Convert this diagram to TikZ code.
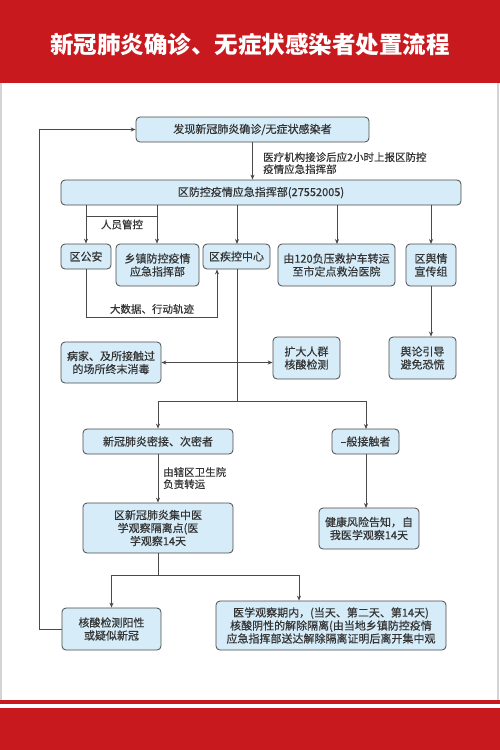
\documentclass[tikz,border=0pt]{standalone}
\usepackage{fontspec}
\newfontfamily\cjk{Noto Sans CJK SC}
\newfontfamily\cjkm[FakeBold=0.35]{Noto Sans CJK SC}
\usetikzlibrary{arrows.meta,calc}
\definecolor{hdred}{HTML}{C8191F}
\definecolor{boxfill}{HTML}{D6ECF8}
\definecolor{boxline}{HTML}{4A4A4A}
\definecolor{txt}{HTML}{333333}
\definecolor{edge}{HTML}{D4D4D4}
\begin{document}
\begin{tikzpicture}[x=1pt,y=-1pt,
  box/.style={draw=boxline, fill=boxfill, rounded corners=4pt, line width=0.8pt,
    align=center, inner sep=0pt, text=txt, font=\cjkm\fontsize{11}{13}\selectfont},
  lbl/.style={text=txt, font=\cjkm\fontsize{10.5}{12}\selectfont, inner sep=0pt},
  conn/.style={draw=boxline, line width=0.8pt},
  arr/.style={conn, -{Stealth[length=5pt,width=4pt]}},
  arrboth/.style={conn, {Stealth[length=5pt,width=4pt]}-{Stealth[length=5pt,width=4pt]}}]
\useasboundingbox (0,0) rectangle (500,750);
\fill[white] (0,0) rectangle (500,750);
% header and footer
\fill[hdred] (0,0) rectangle (500,83);
\node[text=white, font=\cjk\bfseries\fontsize{23.5}{26}\selectfont, inner sep=0pt] (title) at (250,45) {新冠肺炎确诊、无症状感染者处置流程};
\fill[hdred] (0,700) rectangle (500,704);
\fill[hdred] (0,708) rectangle (500,750);
\draw[edge, line width=1.5pt] (1,83) -- (1,700);
\draw[edge, line width=1.5pt] (498,83) -- (498,700);
% boxes
\node[box, minimum width=233, minimum height=25] (b1) at (252.5,129.5) {发现新冠肺炎确诊/无症状感染者};
\node[box, minimum width=400, minimum height=25] (b2) at (261,192.5) {区防控疫情应急指挥部(27552005)};
\node[box, minimum width=50, minimum height=25] (ga) at (86,256.5) {区公安};
\node[box, minimum width=83, minimum height=42] (xz) at (157.5,265) {乡镇防控疫情\\应急指挥部};
\node[box, minimum width=67, minimum height=25] (jk) at (236.5,256.5) {区疾控中心};
\node[box, minimum width=117, minimum height=42] (zy) at (336.5,265) {由120负压救护车转运\\至市定点救治医院};
\node[box, minimum width=50, minimum height=42] (yq) at (431,265) {区舆情\\宣传组};
\node[box, minimum width=100, minimum height=41] (bj) at (111,362.5) {病家、及所接触过\\的场所终末消毒};
\node[box, minimum width=67, minimum height=42] (kd) at (306.5,358) {扩大人群\\核酸检测};
\node[box, minimum width=67, minimum height=42] (yl) at (422.5,358) {舆论引导\\避免恐慌};
\node[box, minimum width=150, minimum height=25] (mj) at (158,441.5) {新冠肺炎密接、次密者};
\node[box, minimum width=67, minimum height=25] (yb) at (365.5,441.5) {–般接触者};
\node[box, minimum width=150, minimum height=50] (gl) at (158,528) {区新冠肺炎集中医\\学观察隔离点(医\\学观察14天};
\node[box, minimum width=100, minimum height=41] (jz) at (369,528.5) {健康风险告知，自\\我医学观察14天};
\node[box, minimum width=99, minimum height=42] (yx) at (111.5,629) {核酸检测阳性\\或疑似新冠};
\node[box, minimum width=230, minimum height=49] (jc) at (331,625.5) {医学观察期内，(当天、第二天、第14天)\\核酸阴性的解除隔离(由当地乡镇防控疫情\\应急指挥部送达解除隔离证明后离开集中观};
% labels
\node[lbl, anchor=north west, align=left] (l1) at (263,152) {医疗机构接诊后应2小时上报区防控\\疫情应急指挥部};
\node[lbl] (l2) at (122,224.5) {人员管控};
\node[lbl] (l3) at (152,309) {大数据、行动轨迹};
\node[lbl, anchor=north west, align=left] (l4) at (163,467) {由辖区卫生院\\负责转运};
% junction coordinates
\coordinate (h1) at (86,216);
\coordinate (h2) at (157,216);
\coordinate (d1) at (217,317);
\coordinate (s1) at (237,401);
\coordinate (s2) at (158,575);
\coordinate (t1) at (299,575);
\coordinate (lp) at (39,629);
% connectors
\draw[arr] (b1.south) -- (b1.south |- b2.north);
\draw[arr] (h1 |- b2.south) -- (ga.north);
\draw[arr] (h2 |- b2.south) -- (h2 |- xz.north);
\draw[conn] (h1) -- (h2);
\draw[arr] (237,205) -- (237,244);
\draw[arr] (337,205) -- (337,244);
\draw[arr] (431,205) -- (431,244);
\draw[arr] (ga.south) |- (d1) -- (d1 |- jk.south);
\draw[conn] (s1 |- jk.south) -- (s1);
\draw[arr] (s1) -| (mj.north);
\draw[arr] (s1) -| (366,429);
\draw[arrboth] (bj.east) -- (bj.east -| kd.west);
\draw[arr] (yq.south) -- (yq.south |- yl.north);
\draw[arr] (mj.south) -- (gl.north);
\draw[arr] (366,454) -- (366,508);
\draw[conn] (gl.south) -- (s2);
\draw[arr] (s2) -| (yx.north);
\draw[arr] (s2) -- (t1) -- (t1 |- jc.north);
\draw[arr] (yx.west) -- (lp) |- (b1.west);
\end{tikzpicture}
\end{document}
